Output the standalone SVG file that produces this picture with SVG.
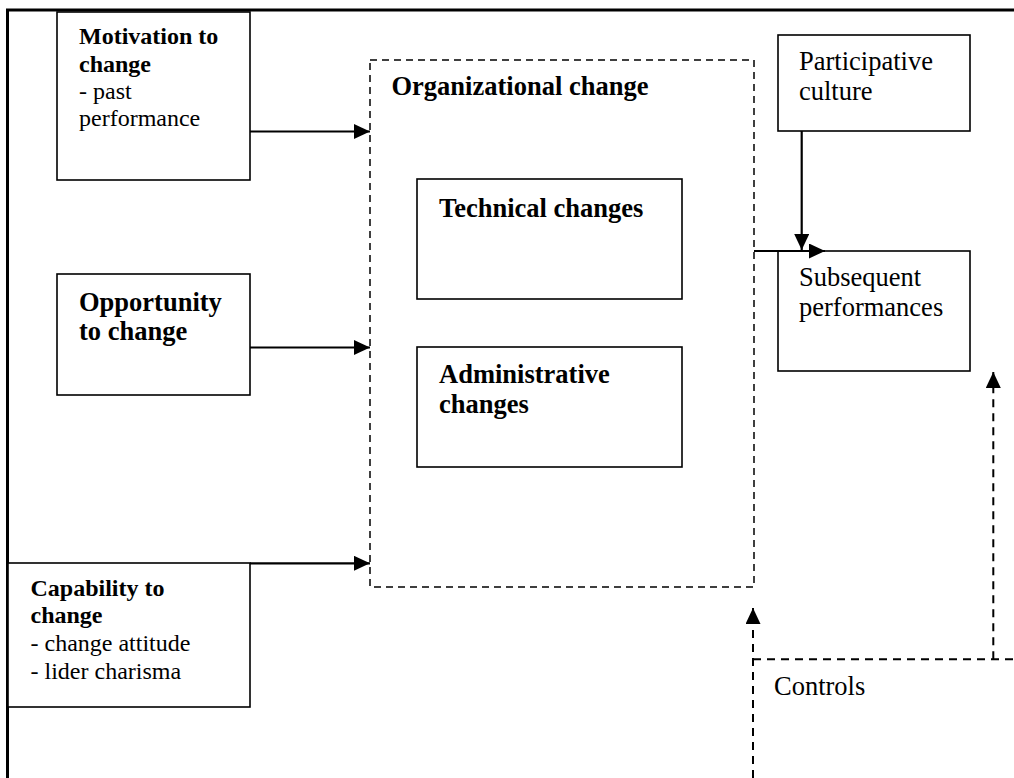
<svg xmlns="http://www.w3.org/2000/svg" width="1014" height="778" viewBox="0 0 1014 778">
<style>
.box{fill:#fff;stroke:#000;stroke-width:1.6}
.dbox{fill:none;stroke:#000;stroke-width:1.5;stroke-dasharray:7 5}
.arr{fill:none;stroke:#000;stroke-width:2.2}
.darr{fill:none;stroke:#000;stroke-width:2;stroke-dasharray:8 6}
.frame{fill:none;stroke:#000;stroke-width:3}
text{font-family:"Liberation Serif","Times New Roman",serif;fill:#000}
.b{font-weight:bold;font-size:26.5px}
.r{font-size:26.5px}
.bs{font-weight:bold;font-size:24px}
.rs{font-size:24px}
</style>
<defs>
<marker id="ah" markerUnits="userSpaceOnUse" markerWidth="18" markerHeight="16" refX="16" refY="7.5" orient="auto">
<path d="M0,0 L16,7.5 L0,15 z" fill="#000"/>
</marker>
</defs>
<path class="frame" d="M7.5,778 V10 H1014"/>
<g id="org">
<rect class="dbox" x="370" y="60" width="384" height="527"/>
<text class="b" x="391.5" y="95">Organizational change</text>
</g>
<g id="motivation">
<rect class="box" x="57" y="12" width="193" height="168"/>
<text class="bs" x="79" y="44">Motivation to</text>
<text class="bs" x="79" y="71.5">change</text>
<text class="rs" x="79" y="98.5">- past</text>
<text class="rs" x="79" y="126">performance</text>
</g>
<g id="opportunity">
<rect class="box" x="57" y="274" width="193" height="121"/>
<text class="b" x="79" y="311">Opportunity</text>
<text class="b" x="79" y="340">to change</text>
</g>
<g id="capability">
<rect class="box" x="8" y="563" width="242" height="144"/>
<text class="bs" x="30.5" y="596">Capability to</text>
<text class="bs" x="30.5" y="623">change</text>
<text class="rs" x="30.5" y="651">- change attitude</text>
<text class="rs" x="30.5" y="679">- lider charisma</text>
</g>
<g id="technical">
<rect class="box" x="417" y="179" width="265" height="120"/>
<text class="b" x="439" y="216.5">Technical changes</text>
</g>
<g id="administrative">
<rect class="box" x="417" y="347" width="265" height="120"/>
<text class="b" x="439" y="383">Administrative</text>
<text class="b" x="439" y="412.5">changes</text>
</g>
<g id="participative">
<rect class="box" x="778" y="35" width="192" height="96"/>
<text class="r" x="799" y="70">Participative</text>
<text class="r" x="799" y="100">culture</text>
</g>
<g id="subsequent">
<rect class="box" x="778" y="251" width="192" height="120"/>
<text class="r" x="799" y="286">Subsequent</text>
<text class="r" x="799" y="316">performances</text>
</g>
<g id="controls">
<text class="r" x="774" y="695">Controls</text>
</g>
<g id="connectors">
<path class="arr" d="M250,131.5 H370" marker-end="url(#ah)"/>
<path class="arr" d="M250,347.5 H370" marker-end="url(#ah)"/>
<path class="arr" d="M250,563.3 H370" marker-end="url(#ah)"/>
<path class="arr" d="M801.7,131 V250" marker-end="url(#ah)"/>
<path class="arr" d="M754,251 H825" marker-end="url(#ah)"/>
<path class="darr" d="M753,778 V608" marker-end="url(#ah)"/>
<path class="darr" d="M753,659.3 H1014"/>
<path class="darr" d="M993.3,659.3 V372" marker-end="url(#ah)"/>
</g>
</svg>
